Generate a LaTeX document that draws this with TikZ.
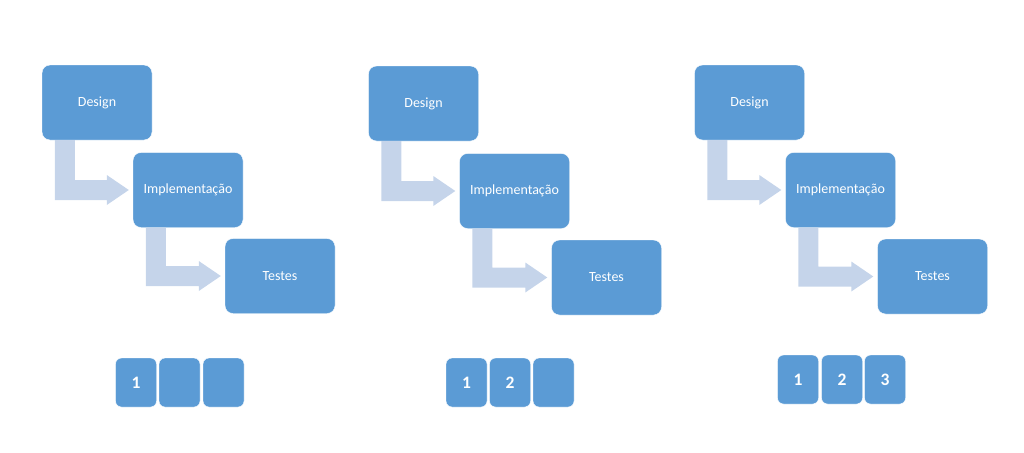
\documentclass[tikz,border=0pt]{standalone}
\usepackage{fontspec}
\setmainfont{Carlito}
\usetikzlibrary{calc}

\definecolor{boxblue}{RGB}{91,155,213}
\definecolor{arrowblue}{RGB}{197,212,234}

% bent arrow from one step box into the next
\newcommand{\steparrow}[2]{%
  \fill[arrowblue] ($(#1.south west)+(13,0)$) -- ($(#1.south west)+(33,0)$)
    |- ($(#2.west)+(-26,-10)$) -- ++(0,-5) -- ($(#2.west)+(-4,0)$)
    -- ($(#2.west)+(-26,15)$) -- ++(0,-5) -| ($(#1.south west)+(13,0)$) -- cycle;}

\begin{document}
\begin{tikzpicture}[x=1pt, y=-1pt]
  \tikzstyle{stepbox}=[fill=boxblue, draw=white, rounded corners=8pt, minimum width=110pt, minimum height=75pt, inner sep=0pt, text=white, font=\fontsize{14}{16}\selectfont]
  \tikzstyle{numbox}=[fill=boxblue, draw=white, rounded corners=6pt, minimum width=41pt, minimum height=49pt, inner sep=0pt, text=white, font=\bfseries\fontsize{17.5}{20}\selectfont]

\useasboundingbox (0,0) rectangle (1024,452);

% first iteration
\node[stepbox] (d1) at (97, 102.5) {Design};
\node[stepbox] (i1) at (188, 190) {Implementação};
\node[stepbox] (t1) at (280, 276) {Testes};
\steparrow{d1}{i1}
\steparrow{i1}{t1}

\node[numbox] (a1) at (136, 382.5) {1};
\node[numbox] (b1) at (179.5, 382.5) {};
\node[numbox] (c1) at (223.5, 382.5) {};

% second iteration
\node[stepbox] (d2) at (423.5, 103.5) {Design};
\node[stepbox] (i2) at (514.5, 191) {Implementação};
\node[stepbox] (t2) at (606.5, 277.5) {Testes};
\steparrow{d2}{i2}
\steparrow{i2}{t2}

\node[numbox] (a2) at (466.5, 382.5) {1};
\node[numbox] (b2) at (510, 382.5) {2};
\node[numbox] (c2) at (553.5, 382.5) {};

% third iteration
\node[stepbox] (d3) at (749.5, 102.5) {Design};
\node[stepbox] (i3) at (840.5, 190) {Implementação};
\node[stepbox] (t3) at (932.5, 276.5) {Testes};
\steparrow{d3}{i3}
\steparrow{i3}{t3}

\node[numbox] (a3) at (798, 379.5) {1};
\node[numbox] (b3) at (842, 379.5) {2};
\node[numbox] (c3) at (885, 379.5) {3};

\end{tikzpicture}
\end{document}
